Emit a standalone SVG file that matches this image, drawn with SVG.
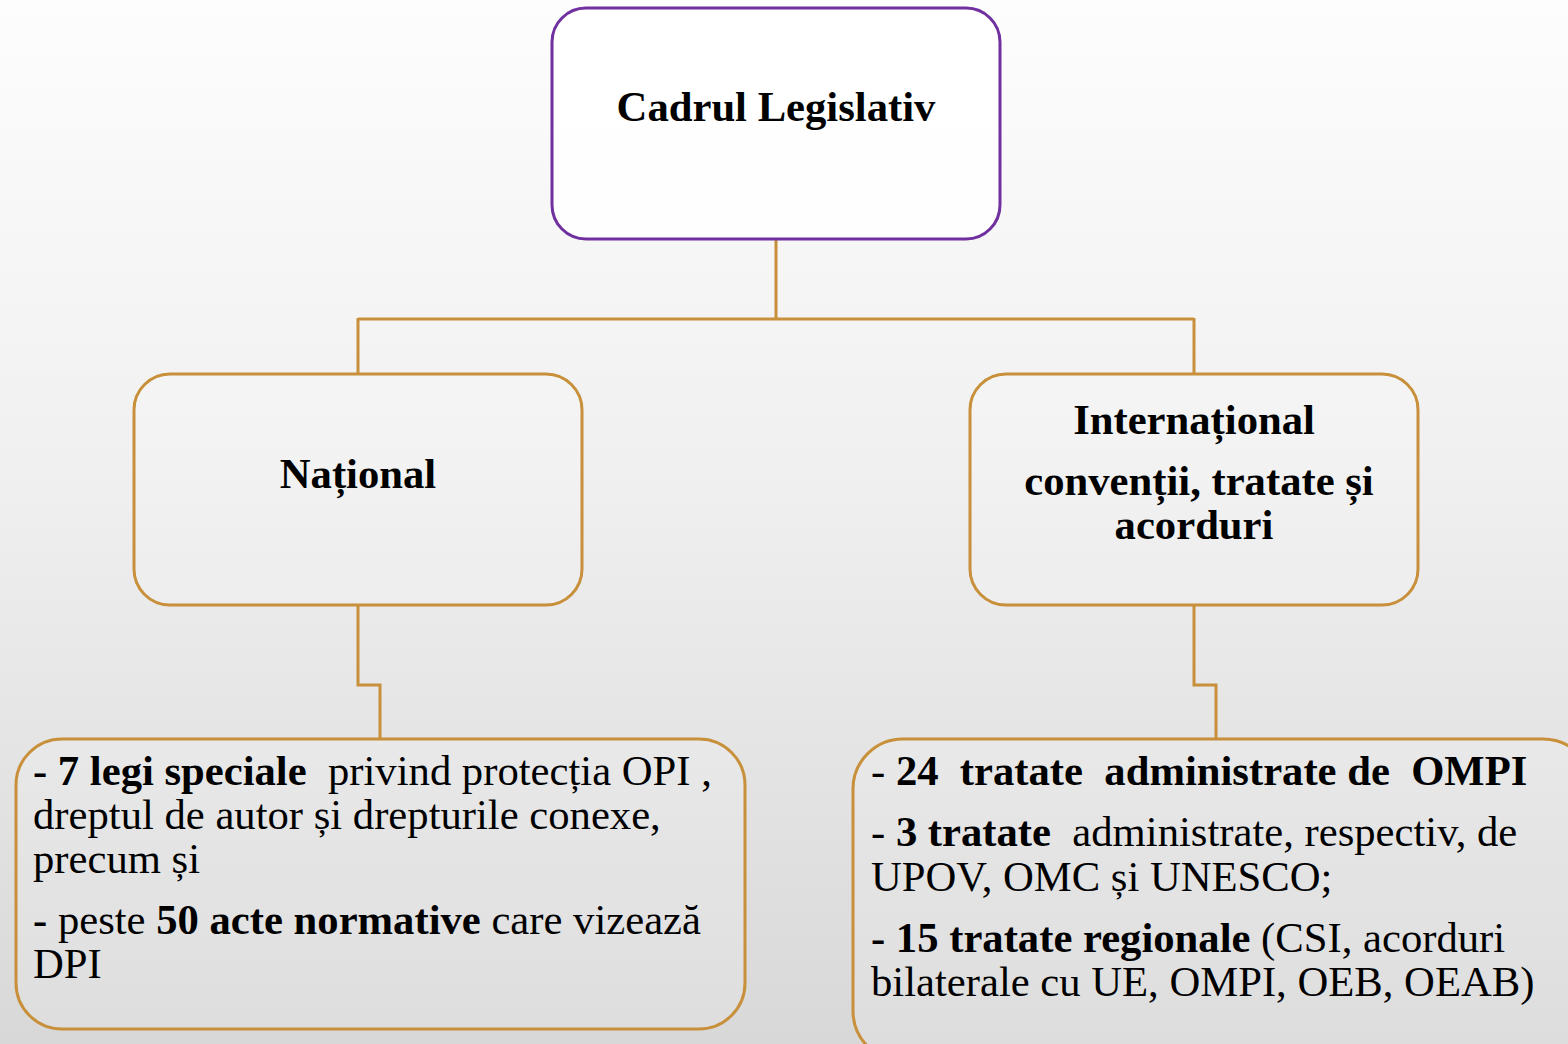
<svg xmlns="http://www.w3.org/2000/svg" width="1568" height="1044" viewBox="0 0 1568 1044">
  <defs>
    <linearGradient id="bg" x1="0" y1="0" x2="0" y2="1">
      <stop offset="0" stop-color="#fdfdfd"/>
      <stop offset="0.45" stop-color="#f0f0f0"/>
      <stop offset="1" stop-color="#d8d8d8"/>
    </linearGradient>
    <style>
      .t { font-family: "Liberation Serif", "Times New Roman", serif; font-size: 42.67px; fill: #000; }
      .b { font-weight: bold; }
      .gold { fill: #ffffff; fill-opacity: 0.15; stroke: #C8903A; stroke-width: 3; }
      .conn { fill: none; stroke: #C8903A; stroke-width: 3; }
    </style>
  </defs>
  <rect x="0" y="0" width="1568" height="1044" fill="url(#bg)"/>

  <g id="connectors">
    <path class="conn" d="M776,240 V319 M358,319 H1194 M358,318 V373 M1194,318 V373"/>
    <path class="conn" d="M358,606 V685 H380 V739"/>
    <path class="conn" d="M1194,606 V685 H1216 V739"/>
  </g>

  <g id="cadrul">
    <rect x="552" y="8" width="448" height="231" rx="34" ry="34" fill="#ffffff" fill-opacity="0.85" stroke="#7030A0" stroke-width="3"/>
    <text class="t b" x="776" y="121" text-anchor="middle">Cadrul Legislativ</text>
  </g>

  <g id="national">
    <rect class="gold" x="134" y="374" width="448" height="231" rx="36" ry="36"/>
    <text class="t b" x="358" y="488" text-anchor="middle">Național</text>
  </g>

  <g id="international">
    <rect class="gold" x="970" y="374" width="448" height="231" rx="36" ry="36"/>
    <text class="t b" x="1194" y="434" text-anchor="middle">Internațional</text>
    <text class="t b" x="1199" y="495" text-anchor="middle">convenții, tratate și</text>
    <text class="t b" x="1194" y="539" text-anchor="middle">acorduri</text>
  </g>

  <g id="national-detail">
    <rect class="gold" x="16" y="739" width="729" height="290" rx="46" ry="46"/>
    <text class="t" x="33" y="785" xml:space="preserve"><tspan class="b">- 7 legi speciale</tspan>  privind protecția OPI ,</text>
    <text class="t" x="33" y="829">dreptul de autor și drepturile conexe,</text>
    <text class="t" x="33" y="873">precum și</text>
    <text class="t" x="33" y="934" xml:space="preserve"><tspan class="b">-</tspan> peste <tspan class="b">50 acte normative</tspan> care vizează</text>
    <text class="t" x="33" y="978">DPI</text>
  </g>

  <g id="international-detail">
    <rect class="gold" x="853" y="739" width="740" height="322" rx="50" ry="50"/>
    <text class="t" x="871" y="785" xml:space="preserve">- <tspan class="b">24  tratate  administrate de  OMPI</tspan></text>
    <text class="t" x="871" y="846" xml:space="preserve">- <tspan class="b">3 tratate</tspan>  administrate, respectiv, de</text>
    <text class="t" x="871" y="891">UPOV, OMC și UNESCO;</text>
    <text class="t" x="871" y="952" xml:space="preserve"><tspan class="b">- 15 tratate regionale</tspan> (CSI, acorduri</text>
    <text class="t" x="871" y="996">bilaterale cu UE, OMPI, OEB, OEAB)</text>
  </g>
</svg>
